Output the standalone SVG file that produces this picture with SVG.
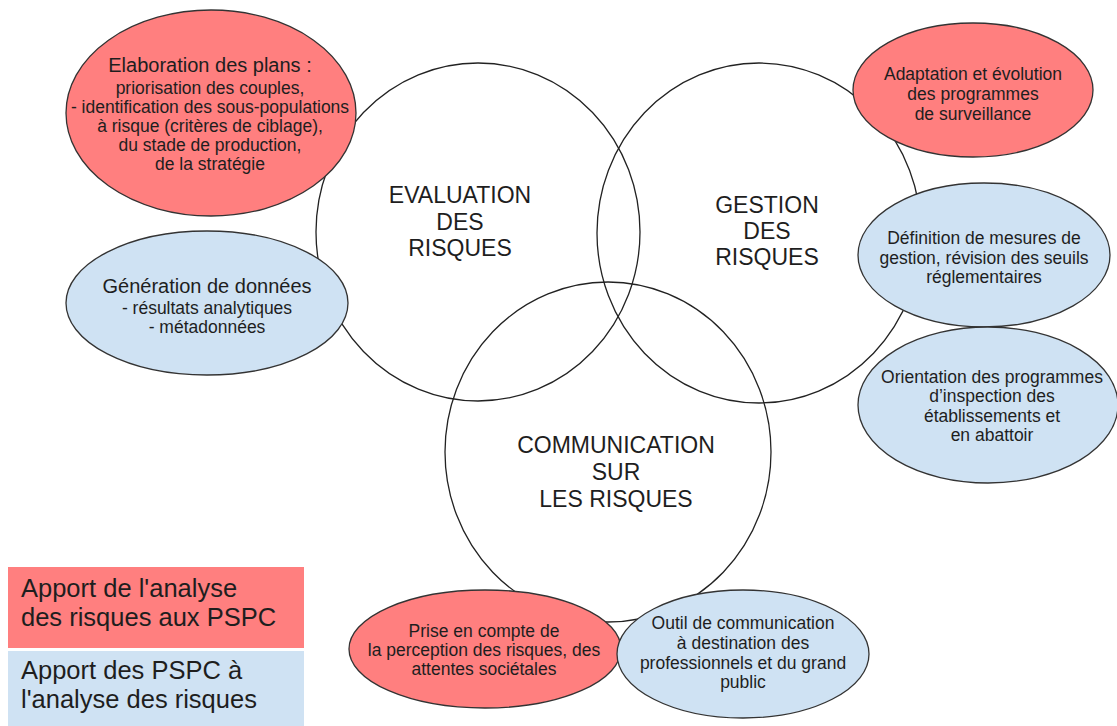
<svg xmlns="http://www.w3.org/2000/svg" width="1117" height="726" viewBox="0 0 1117 726">
<style>
text{font-family:"Liberation Sans",Arial,sans-serif;fill:#1e1e1e;text-anchor:middle}
.big{font-size:23px}
.h{font-size:20px}
.s{font-size:17.5px}
.lg{font-size:25.5px;text-anchor:start}
.ring{fill:none;stroke:#222;stroke-width:1.3}
.red{fill:#ff7f7f;stroke:#333;stroke-width:1.3}
.blue{fill:#cfe2f3;stroke:#333;stroke-width:1.3}
</style>
<rect width="1117" height="726" fill="#ffffff"/>
<g id="circles">
<g id="evaluation"><ellipse class="ring" cx="478" cy="232" rx="162" ry="169"/>
<text class="big" x="460" y="203">EVALUATION</text><text class="big" x="460" y="230">DES</text><text class="big" x="460" y="256">RISQUES</text></g>
<g id="gestion"><ellipse class="ring" cx="759" cy="233" rx="162" ry="170"/>
<text class="big" x="767" y="213">GESTION</text><text class="big" x="767" y="239">DES</text><text class="big" x="767" y="265">RISQUES</text></g>
<g id="communication"><ellipse class="ring" cx="608" cy="452" rx="163" ry="170"/>
<text class="big" x="616" y="453">COMMUNICATION</text><text class="big" x="616" y="480">SUR</text><text class="big" x="616" y="507">LES RISQUES</text></g>
</g>
<g id="elaboration"><ellipse class="red" cx="211" cy="113" rx="145" ry="103"/>
<text class="h" x="210" y="72">Elaboration des plans :</text>
<text class="s" x="210" y="94">priorisation des couples,</text>
<text class="s" x="210" y="113">- identification des sous-populations</text>
<text class="s" x="210" y="132">à risque (critères de ciblage),</text>
<text class="s" x="210" y="151">du stade de production,</text>
<text class="s" x="210" y="170">de la stratégie</text></g>
<g id="generation"><ellipse class="blue" cx="207" cy="303" rx="141" ry="72"/>
<text class="h" x="207" y="293">Génération de données</text>
<text class="s" x="207" y="314">- résultats analytiques</text>
<text class="s" x="207" y="333">- métadonnées</text></g>
<g id="adaptation"><ellipse class="red" cx="973" cy="90" rx="120" ry="67"/>
<text class="s" x="973" y="80">Adaptation et évolution</text>
<text class="s" x="973" y="100">des programmes</text>
<text class="s" x="973" y="120">de surveillance</text></g>
<g id="definition"><ellipse class="blue" cx="984" cy="255" rx="126" ry="72"/>
<text class="s" x="984" y="244">Définition de mesures de</text>
<text class="s" x="984" y="264">gestion, révision des seuils</text>
<text class="s" x="984" y="283">réglementaires</text></g>
<g id="orientation"><ellipse class="blue" cx="988" cy="405" rx="130" ry="78"/>
<text class="s" x="992" y="383">Orientation des programmes</text>
<text class="s" x="992" y="402">d’inspection des</text>
<text class="s" x="992" y="422">établissements et</text>
<text class="s" x="992" y="441">en abattoir</text></g>
<g id="prise"><ellipse class="red" cx="485" cy="649" rx="136" ry="59"/>
<text class="s" x="484" y="637">Prise en compte de</text>
<text class="s" x="484" y="656">la perception des risques, des</text>
<text class="s" x="484" y="675">attentes sociétales</text></g>
<g id="outil"><ellipse class="blue" cx="743" cy="654" rx="126" ry="64"/>
<text class="s" x="743" y="629">Outil de communication</text>
<text class="s" x="743" y="649">à destination des</text>
<text class="s" x="743" y="669">professionnels et du grand</text>
<text class="s" x="743" y="688">public</text></g>
<g id="legend">
<rect x="8" y="567" width="296" height="81" fill="#ff7f7f"/>
<text class="lg" x="21" y="597">Apport de l'analyse</text>
<text class="lg" x="21" y="626">des risques aux PSPC</text>
<rect x="8" y="651" width="296" height="75" fill="#cfe2f3"/>
<text class="lg" x="21" y="679">Apport des PSPC à</text>
<text class="lg" x="21" y="708">l'analyse des risques</text>
</g>
</svg>
